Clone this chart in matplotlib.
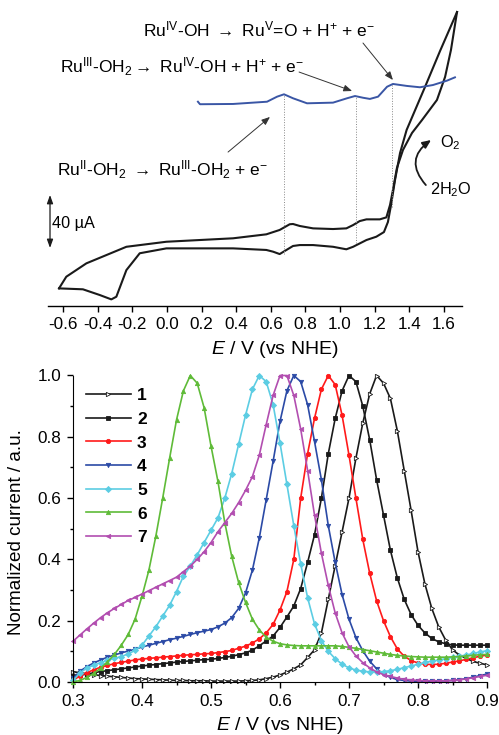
import numpy as np
import matplotlib
matplotlib.use('Agg')
import matplotlib.pyplot as plt
from matplotlib.ticker import MultipleLocator, FixedLocator

plt.rcParams['font.family'] = ['Liberation Sans', 'DejaVu Sans']
plt.rcParams['mathtext.fontset'] = 'custom'
plt.rcParams['mathtext.rm'] = 'Liberation Sans'
plt.rcParams['mathtext.it'] = 'Liberation Sans:italic'
plt.rcParams['mathtext.bf'] = 'Liberation Sans:bold'
plt.rcParams['axes.unicode_minus'] = False

# ---- top panel: cyclic voltammogram (uA) and DPV trace ----
cv_fwd_E = [-0.623, -0.581, -0.465, -0.234, -0.003, 0.382, 0.574, 0.651, 0.709, 0.728,
            0.767, 0.844, 0.959, 1.036, 1.075, 1.113, 1.152, 1.229, 1.267, 1.288,
            1.305, 1.328, 1.363, 1.415, 1.473, 1.559, 1.606, 1.640, 1.675]
cv_fwd_I = [-21.4, -12.6, -2.5, 10.0, 13.8, 16.4, 19.4, 22.7, 27.0, 27.2,
            25.7, 23.9, 23.4, 23.9, 26.4, 29.4, 30.7, 30.7, 32.2, 41.5,
            52.9, 69.5, 83.1, 95.9, 105.7, 120.8, 138.2, 158.6, 187.2]
cv_rev_E = [1.675, 1.577, 1.490, 1.421, 1.384, 1.346, 1.317, 1.294, 1.276, 1.253,
            1.209, 1.152, 1.075, 1.036, 0.959, 0.844, 0.767, 0.728, 0.690, 0.651,
            0.613, 0.574, 0.382, -0.003, -0.157, -0.234, -0.292, -0.321, -0.388,
            -0.485, -0.623]
cv_rev_I = [187.2, 157.8, 130.6, 109.5, 98.2, 80.8, 60.4, 41.5, 28.7, 21.1,
            17.6, 15.1, 10.0, 8.1, 10.0, 11.3, 11.3, 10.6, 7.6, 4.5,
            6.3, 7.6, 8.8, 8.8, 5.1, -7.6, -27.7, -29.7, -26.4,
            -22.1, -21.4]
dpv_E = [0.179, 0.191, 0.382, 0.578, 0.636, 0.676, 0.728, 0.809, 0.959, 1.040,
         1.086, 1.132, 1.172, 1.219, 1.271, 1.305, 1.386, 1.461, 1.536, 1.617, 1.663]
dpv_I = [119.5, 117.6, 117.8, 119.5, 123.3, 125.1, 122.1, 118.3, 118.8, 122.1,
         123.8, 122.5, 121.6, 123.3, 130.8, 132.9, 131.4, 130.4, 132.1, 135.4, 137.9]
# dotted guides: potential, top, bottom
guide_E = [0.678, 1.092, 1.301]
guide_top = [124.6, 123.8, 132.1]
guide_bot = [4.5, 12.8, 40.0]

cv_ticks = [-0.6, -0.4, -0.2, 0.0, 0.2, 0.4, 0.6, 0.8, 1.0, 1.2, 1.4, 1.6]
cv_ticklabels = ['-0.6', '-0.4', '-0.2', '0.0', '0.2', '0.4', '0.6', '0.8',
                 '1.0', '1.2', '1.4', '1.6']

# ---- bottom panel: normalized DPV of complexes 1-7 ----
E = np.linspace(0.30, 0.90, 61)
s1 = [0.034, 0.030, 0.027, 0.024, 0.021, 0.019, 0.017, 0.015, 0.013, 0.011,
      0.010, 0.009, 0.008, 0.007, 0.006, 0.005, 0.005, 0.004, 0.004, 0.004,
      0.003, 0.003, 0.003, 0.003, 0.003, 0.004, 0.005, 0.007, 0.011, 0.016,
      0.023, 0.032, 0.043, 0.056, 0.080, 0.105, 0.160, 0.270, 0.380, 0.490,
      0.600, 0.730, 0.845, 0.940, 1.000, 0.975, 0.925, 0.820, 0.690, 0.560,
      0.425, 0.320, 0.240, 0.180, 0.137, 0.105, 0.088, 0.077, 0.067, 0.061,
      0.056]
s2 = [0.018, 0.022, 0.026, 0.030, 0.034, 0.037, 0.040, 0.043, 0.046, 0.049,
      0.052, 0.055, 0.057, 0.060, 0.062, 0.065, 0.067, 0.069, 0.071, 0.073,
      0.074, 0.077, 0.080, 0.084, 0.089, 0.095, 0.104, 0.118, 0.134, 0.150,
      0.178, 0.212, 0.248, 0.305, 0.390, 0.480, 0.600, 0.745, 0.860, 0.950,
      1.000, 0.980, 0.900, 0.790, 0.660, 0.545, 0.430, 0.340, 0.270, 0.220,
      0.185, 0.160, 0.142, 0.131, 0.125, 0.121, 0.120, 0.120, 0.120, 0.120,
      0.120]
s3 = [0.005, 0.020, 0.030, 0.040, 0.048, 0.054, 0.060, 0.064, 0.068, 0.072,
      0.075, 0.077, 0.079, 0.081, 0.083, 0.085, 0.087, 0.089, 0.090, 0.092,
      0.093, 0.096, 0.099, 0.103, 0.110, 0.117, 0.127, 0.141, 0.160, 0.188,
      0.235, 0.295, 0.400, 0.600, 0.745, 0.860, 0.955, 1.000, 0.970, 0.870,
      0.740, 0.600, 0.465, 0.355, 0.265, 0.200, 0.148, 0.108, 0.084, 0.070,
      0.062, 0.058, 0.057, 0.058, 0.061, 0.065, 0.069, 0.074, 0.079, 0.084,
      0.088]
s4 = [0.012, 0.035, 0.050, 0.062, 0.072, 0.081, 0.088, 0.095, 0.101, 0.107,
      0.114, 0.120, 0.126, 0.132, 0.138, 0.143, 0.149, 0.155, 0.161, 0.166,
      0.171, 0.180, 0.192, 0.210, 0.240, 0.290, 0.365, 0.470, 0.595, 0.720,
      0.850, 0.950, 1.000, 0.980, 0.905, 0.785, 0.660, 0.510, 0.390, 0.285,
      0.205, 0.145, 0.102, 0.068, 0.043, 0.026, 0.015, 0.008, 0.005, 0.003,
      0.002, 0.002, 0.002, 0.003, 0.004, 0.005, 0.008, 0.011, 0.016, 0.021,
      0.026]
s5 = [0.005, 0.030, 0.045, 0.055, 0.063, 0.071, 0.077, 0.083, 0.092, 0.103,
      0.120, 0.150, 0.180, 0.215, 0.250, 0.295, 0.345, 0.378, 0.415, 0.455,
      0.495, 0.535, 0.600, 0.680, 0.775, 0.870, 0.955, 1.000, 0.980, 0.905,
      0.780, 0.645, 0.510, 0.385, 0.275, 0.190, 0.135, 0.100, 0.076, 0.058,
      0.046, 0.039, 0.035, 0.033, 0.033, 0.034, 0.037, 0.041, 0.047, 0.052,
      0.058, 0.064, 0.068, 0.072, 0.076, 0.080, 0.084, 0.088, 0.093, 0.098,
      0.102]
s6 = [0.000, 0.005, 0.015, 0.028, 0.045, 0.066, 0.090, 0.120, 0.155, 0.205,
      0.280, 0.365, 0.475, 0.600, 0.730, 0.855, 0.950, 1.000, 0.975, 0.895,
      0.770, 0.655, 0.520, 0.410, 0.325, 0.260, 0.205, 0.170, 0.146, 0.133,
      0.125, 0.121, 0.119, 0.118, 0.118, 0.118, 0.118, 0.118, 0.118, 0.116,
      0.113, 0.110, 0.106, 0.102, 0.098, 0.094, 0.090, 0.087, 0.085, 0.083,
      0.082, 0.081, 0.081, 0.081, 0.081, 0.082, 0.083, 0.085, 0.087, 0.089,
      0.090]
s7 = [0.133, 0.153, 0.173, 0.192, 0.210, 0.226, 0.240, 0.253, 0.266, 0.276,
      0.287, 0.298, 0.309, 0.320, 0.331, 0.342, 0.360, 0.378, 0.400, 0.425,
      0.455, 0.490, 0.520, 0.550, 0.585, 0.625, 0.670, 0.740, 0.840, 0.935,
      1.000, 1.000, 0.935, 0.825, 0.690, 0.545, 0.420, 0.315, 0.225, 0.160,
      0.115, 0.085, 0.063, 0.046, 0.033, 0.024, 0.018, 0.013, 0.009, 0.007,
      0.005, 0.004, 0.004, 0.004, 0.004, 0.005, 0.007, 0.010, 0.014, 0.018,
      0.022]
series = [s1, s2, s3, s4, s5, s6, s7]
labels = ['1', '2', '3', '4', '5', '6', '7']
colors = ['#1a1a1a', '#1a1a1a', '#ff1a1a', '#2b4aa6', '#5ccde3', '#5fbb38', '#b24eb0']
markers = ['>', 's', 'o', 'v', 'D', '^', '<']
faces = ['white', '#1a1a1a', '#ff1a1a', '#2b4aa6', '#5ccde3', '#5fbb38', '#b24eb0']

fig = plt.figure(figsize=(4.99, 7.35), dpi=100)

# ===== top panel =====
ax1 = fig.add_axes([48 / 499, 1 - 306 / 735, 414 / 499, 301 / 735])
ax1.plot(cv_fwd_E, cv_fwd_I, color='#1a1a1a', lw=1.5, solid_joinstyle='round')
ax1.plot(cv_rev_E, cv_rev_I, color='#1a1a1a', lw=1.5, solid_joinstyle='round')
ax1.plot(dpv_E, dpv_I, color='#3a56a5', lw=1.4, solid_joinstyle='round')
for e, t, b in zip(guide_E, guide_top, guide_bot):
    ax1.plot([e, e], [b, t], color='#888888', lw=0.7, ls=':')

ax1.set_xlim(-0.6866, 1.7037)
ax1.set_ylim(-34.7, 192.5)
for s in ['left', 'top', 'right']:
    ax1.spines[s].set_visible(False)
ax1.spines['bottom'].set_linewidth(1.0)
ax1.set_yticks([])
ax1.xaxis.set_major_locator(FixedLocator(cv_ticks))
ax1.set_xticklabels(cv_ticklabels)
ax1.tick_params(axis='x', direction='out', length=4, width=1.0, labelsize=12.3, pad=4)
ax1.set_xlabel('$E$ / V (vs NHE)', fontsize=14)
ax1.xaxis.set_label_coords(0.548, -0.11)

txt_kw = dict(fontsize=12.5, ha='left', va='center')
ax1.text(-0.138, 173.7, r'Ru$^{\mathrm{IV}}$-OH $\rightarrow$ Ru$^{\mathrm{V}}$=O + H$^{+}$ + e$^{-}$', **txt_kw)
ax1.text(-0.617, 145.7, r'Ru$^{\mathrm{III}}$-OH$_{2}$$\rightarrow$ Ru$^{\mathrm{IV}}$-OH + H$^{+}$ + e$^{-}$', **txt_kw)
ax1.text(-0.635, 68.0, r'Ru$^{\mathrm{II}}$-OH$_{2}$ $\rightarrow$ Ru$^{\mathrm{III}}$-OH$_{2}$ + e$^{-}$', **txt_kw)

arr_kw = dict(arrowstyle='-|>,head_length=0.5,head_width=0.2', color='#333333', lw=0.7,
              shrinkA=0, shrinkB=0)
ax1.annotate('', xy=(1.305, 135.9), xytext=(1.132, 163.8), arrowprops=arr_kw)
ax1.annotate('', xy=(1.069, 127.6), xytext=(0.763, 141.9), arrowprops=arr_kw)
ax1.annotate('', xy=(0.595, 108.0), xytext=(0.353, 81.5), arrowprops=arr_kw)

# scale bar
ax1.annotate('', xy=(-0.675, 49.1), xytext=(-0.675, 9.1),
             arrowprops=dict(arrowstyle='<|-|>,head_length=0.5,head_width=0.18',
                             color='#1a1a1a', lw=0.9, shrinkA=0, shrinkB=0))
ax1.text(-0.664, 27.9, '40 \u00b5A', fontsize=11.7, ha='left', va='center')

# water oxidation arrow
ax1.annotate('', xy=(1.525, 90.6), xytext=(1.495, 56.6),
             arrowprops=dict(arrowstyle='-|>,head_length=0.5,head_width=0.22',
                             color='#1a1a1a', lw=1.3, shrinkA=0, shrinkB=0,
                             connectionstyle='arc3,rad=-0.55'))
ax1.text(1.577, 88.3, r'O$_{2}$', fontsize=11.7, ha='left', va='center')
ax1.text(1.519, 52.9, r'2H$_{2}$O', fontsize=11.7, ha='left', va='center')

# ===== bottom panel =====
ax2 = fig.add_axes([73 / 499, 1 - 682 / 735, 414 / 499, 306.5 / 735])
for y, lab, c, m, fc in zip(series, labels, colors, markers, faces):
    ax2.plot(E, y, color=c, lw=1.2, marker=m, markersize=3.1, markerfacecolor=fc,
             markeredgecolor=c, markeredgewidth=0.6, label=lab, clip_on=False)

ax2.set_xlim(0.3, 0.9)
ax2.set_ylim(0.0, 1.0)
for s in ['top', 'right']:
    ax2.spines[s].set_visible(False)
ax2.xaxis.set_major_locator(MultipleLocator(0.1))
ax2.xaxis.set_minor_locator(MultipleLocator(0.05))
ax2.yaxis.set_major_locator(MultipleLocator(0.2))
ax2.yaxis.set_minor_locator(MultipleLocator(0.1))
ax2.xaxis.set_major_formatter(plt.FormatStrFormatter('%.1f'))
ax2.yaxis.set_major_formatter(plt.FormatStrFormatter('%.1f'))
ax2.tick_params(which='major', direction='out', length=4.5, width=1.0, labelsize=12.3, pad=4)
ax2.tick_params(which='minor', direction='out', length=2.5, width=1.0)
ax2.set_xlabel('$E$ / V (vs NHE)', fontsize=14)
ax2.xaxis.set_label_coords(0.5, -0.108)
ax2.set_ylabel('Normalized current / a.u.', fontsize=13.6)
ax2.yaxis.set_label_coords(-0.115, 0.49)

leg = ax2.legend(loc='upper left', bbox_to_anchor=(0.031, 0.959), frameon=False,
                 handlelength=2.6, handletextpad=0.35, labelspacing=0.49,
                 borderpad=0, borderaxespad=0, numpoints=1,
                 prop={'size': 12.5, 'weight': 'bold'})

fig.savefig('out.png', dpi=100)
